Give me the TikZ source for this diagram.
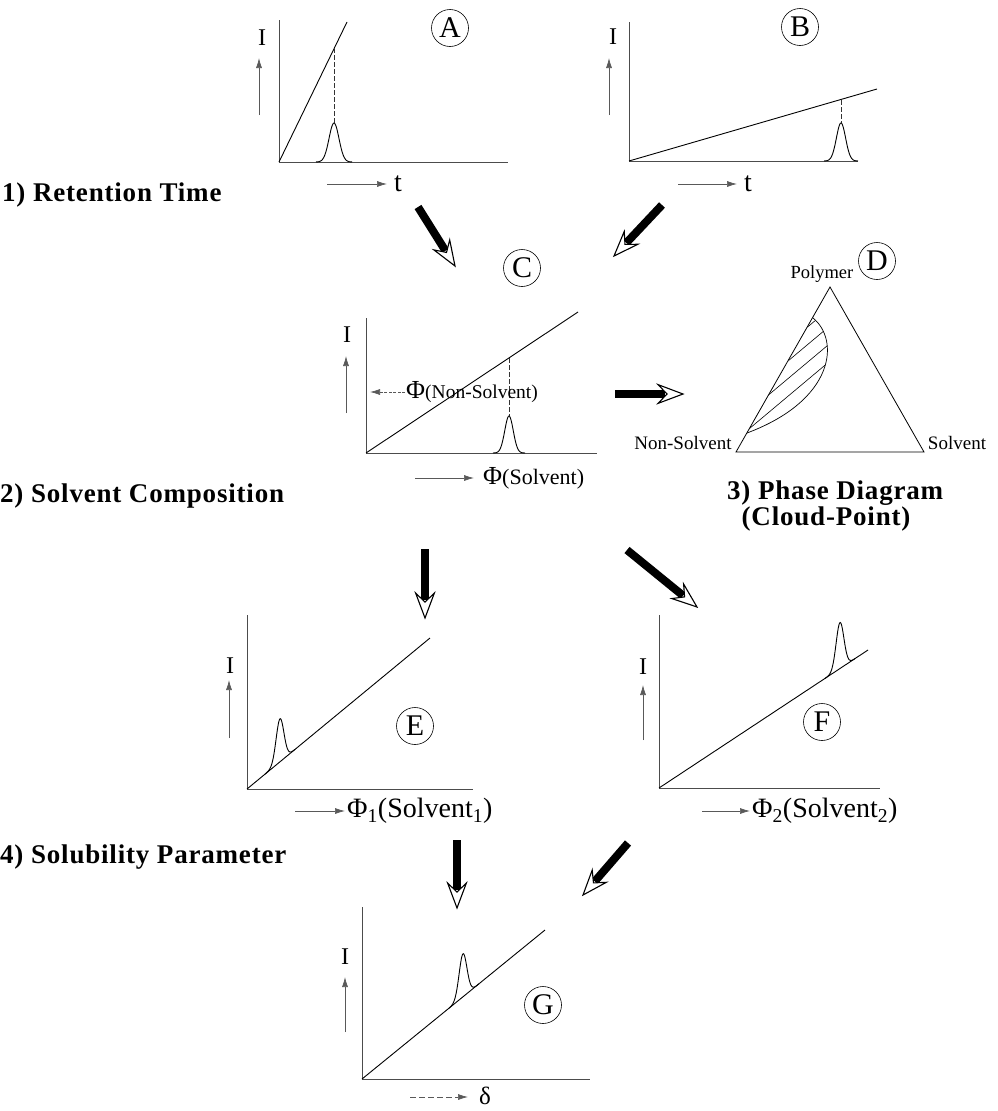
\documentclass[tikz,border=0pt]{standalone}
\usepackage{fontspec}
\setmainfont{Liberation Serif}
\usetikzlibrary{arrows.meta,calc}
\newcommand{\fatarrow}[2]{%
  \draw[line width=8pt, black] (#1) -- ($(#2)!18pt!(#1)$);
  \draw[line width=1.1pt, fill=white, line join=miter]
    let \p1=($(#2)-(#1)$), \n1={atan2(\y1,\x1)} in
    (#2) -- ($(#2)+(\n1+200.6:26.6pt)$) -- ($(#2)+(\n1+180:16pt)$)
    -- ($(#2)+(\n1+159.4:26.6pt)$) -- cycle;}
\begin{document}
\begin{tikzpicture}[x=1pt,y=-1pt,
  ax/.style={line width=0.9pt, black!70},
  curve/.style={line width=0.9pt, black},
  guide/.style={line width=0.8pt, black!80, dash pattern=on 5pt off 2pt},
  smallarr/.style={line width=0.7pt, black!65, -{Latex[length=10pt,width=6pt]}},
  circ/.style={draw, circle, line width=0.6pt, minimum size=37pt, inner sep=0pt, font=\fontsize{30}{30}\selectfont},
  ilab/.style={font=\fontsize{24}{24}\selectfont, inner sep=0pt},
  tlab/.style={font=\fontsize{28}{28}\selectfont, inner sep=0pt},
  tri/.style={font=\fontsize{19}{19}\selectfont, inner sep=0pt},
  sect/.style={font=\fontsize{27}{30}\selectfont\bfseries\addfontfeatures{LetterSpace=3}, inner sep=0pt, anchor=west},
]
\useasboundingbox (0,0) rectangle (998,1111);

% ---------- section labels
\node[sect] (s1) at (2,195) {1) Retention Time};
\node[sect] (s2) at (0,496) {2) Solvent Composition};
\node[sect] (s3a) at (727,493) {3) Phase Diagram};
\node[sect, anchor=center] (s3b) at (826,519) {(Cloud-Point)};
\node[sect] (s4) at (0,857) {4) Solubility Parameter};

% ---------- panel A
\draw[ax] (279,20) -- (279,162) -- (508,162);
\draw[curve] (279,162) -- (347,22);
\draw[guide] (334,48) -- (334,123);
\draw[curve] plot[domain=-18:18, samples=60, smooth] ({334+\x}, {162-39*exp(-(\x/7)^2)});
\node[ilab] (IA) at (262,38) {I};
\draw[smallarr] (259,115) -- (259,58);
\draw[smallarr] (327,184) -- (387,184);
\node[tlab] (tA) at (398,184) {t};
\node[circ] (cA) at (450,28) {A};

% ---------- panel B
\draw[ax] (629,22) -- (629,161) -- (858,161);
\draw[curve] (629,161) -- (877,89);
\draw[guide] (841,100) -- (841,123);
\draw[curve] plot[domain=-17:17, samples=60, smooth] ({841+\x}, {161-38*exp(-(\x/6.5)^2)});
\node[ilab] (IB) at (613,37) {I};
\draw[smallarr] (609,115) -- (609,58);
\draw[smallarr] (678,184) -- (737,184);
\node[tlab] (tB) at (748,184) {t};
\node[circ] (cB) at (800,27) {B};

% ---------- panel C
\draw[ax] (366,318) -- (366,453) -- (597,453);
\draw[curve] (366,453) -- (578,312);
\draw[guide] (509,358) -- (509,416);
\draw[curve] plot[domain=-16:16, samples=60, smooth] ({509+\x}, {453-37*exp(-(\x/6)^2)});
\node[ilab] (IC) at (347,335) {I};
\draw[smallarr] (346,413) -- (346,356);
\draw[smallarr, dash pattern=on 3pt off 1.5pt] (405,392) -- (370,392);
\node[inner sep=0pt, anchor=west] (phiNS) at (406,392) {\fontsize{26}{26}\selectfont Φ\fontsize{19.5}{20}\selectfont(Non-Solvent)};
\draw[smallarr] (415,478) -- (474,478);
\node[inner sep=0pt, anchor=west] (phiS) at (483,478) {\fontsize{26}{26}\selectfont Φ\fontsize{22}{22}\selectfont(Solvent)};
\node[circ] (cC) at (522,268) {C};

% ---------- panel D
\draw[line width=0.8pt] (830,287) -- (736,452) -- (924,452) -- cycle;
\begin{scope}
  \clip (813,318) .. controls (840,340) and (835,400) .. (747,433) -- cycle;
  \foreach \k in {-8,...,2} {
    \draw[line width=0.6pt] ({700+\k*21},470) -- ++(260,-218);
  }
\end{scope}
\draw[line width=0.7pt] (813,318) .. controls (840,340) and (835,400) .. (747,433);
\node[font=\fontsize{18.5}{19}\selectfont, inner sep=0pt] (poly) at (822,274) {Polymer};
\node[tri] (nsv) at (683,443) {Non-Solvent};
\node[tri] (slv) at (957,443) {Solvent};
\node[circ] (cD) at (877,261) {D};

% ---------- panel E
\draw[ax] (247,615) -- (247,789) -- (473,789);
\draw[curve] (247,789) -- (430,638);
\draw[curve] plot[domain=-15:15, samples=60, smooth] ({280+\x}, {789-0.825*(33+\x)-43*exp(-(\x/5.5)^2)});
\node[ilab] (IE) at (230,666) {I};
\draw[smallarr] (229,738) -- (229,680);
\draw[smallarr] (295,811) -- (345,811);
\node[inner sep=0pt, anchor=west] (phi1) at (347,811) {\fontsize{28}{28}\selectfont Φ\textsubscript{1}(Solvent\textsubscript{1})};
\node[circ] (cE) at (415,726) {E};

% ---------- panel F
\draw[ax] (659,615) -- (659,788) -- (880,788);
\draw[curve] (659,788) -- (868,650);
\draw[curve] plot[domain=-15:15, samples=60, smooth] ({840+\x}, {788-0.66*(181+\x)-46*exp(-(\x/5.5)^2)});
\node[ilab] (IF) at (643,667) {I};
\draw[smallarr] (643,740) -- (643,685);
\draw[smallarr] (702,811) -- (750,811);
\node[inner sep=0pt, anchor=west] (phi2) at (752,811) {\fontsize{28}{28}\selectfont Φ\textsubscript{2}(Solvent\textsubscript{2})};
\node[circ] (cF) at (822,722) {F};

% ---------- panel G
\draw[ax] (362,907) -- (362,1079) -- (590,1079);
\draw[curve] (362,1079) -- (545,930);
\draw[curve] plot[domain=-14:16, samples=60, smooth] ({463+\x}, {1079-0.814*(101+\x)-43*exp(-(\x/5.5)^2)});
\node[ilab] (IG) at (345,957) {I};
\draw[smallarr] (345,1032) -- (345,977);
\draw[smallarr, dash pattern=on 6pt off 3pt] (410,1097) -- (468,1097);
\node[font=\fontsize{25}{25}\selectfont, inner sep=0pt] (dG) at (485,1096) {δ};
\node[circ] (cG) at (543,1005) {G};

% ---------- fat arrows
\coordinate (a1s) at (418,207); \coordinate (a1e) at (455,266);
\coordinate (a2s) at (662,205); \coordinate (a2e) at (614,256);
\coordinate (a3s) at (615,394); \coordinate (a3e) at (683,394);
\coordinate (a4s) at (425,549); \coordinate (a4e) at (425,618);
\coordinate (a5s) at (627,550); \coordinate (a5e) at (697,607);
\coordinate (a6s) at (457,840); \coordinate (a6e) at (457,908);
\coordinate (a7s) at (628,843); \coordinate (a7e) at (583,895);
\fatarrow{a1s}{a1e}
\fatarrow{a2s}{a2e}
\fatarrow{a3s}{a3e}
\fatarrow{a4s}{a4e}
\fatarrow{a5s}{a5e}
\fatarrow{a6s}{a6e}
\fatarrow{a7s}{a7e}
\end{tikzpicture}
\end{document}
